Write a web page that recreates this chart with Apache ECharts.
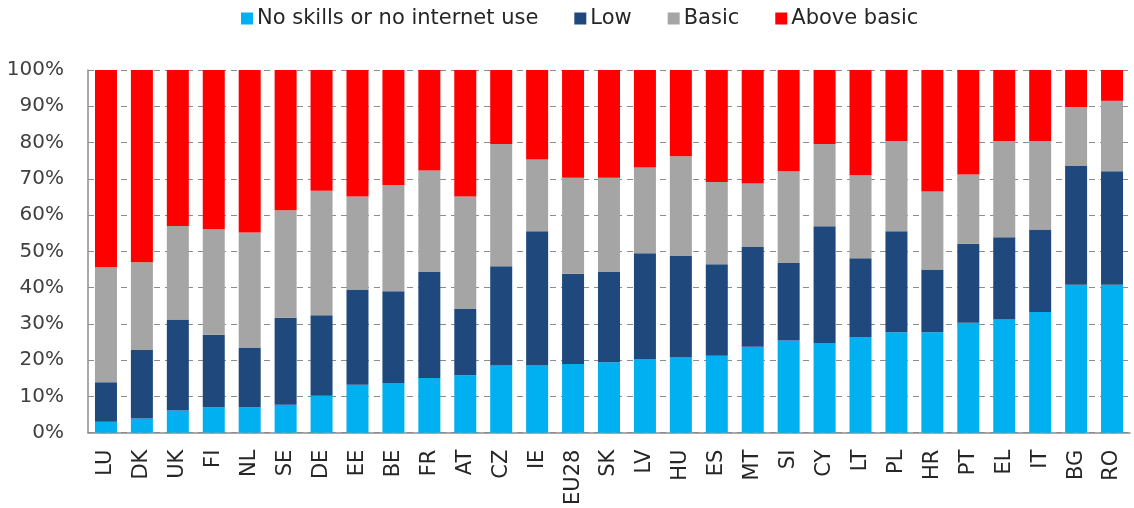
<!DOCTYPE html>
<html>
<head>
<meta charset="utf-8">
<script src="https://cdn.jsdelivr.net/npm/echarts@6/dist/echarts.min.js"></script>
<style>
html,body{margin:0;padding:0;background:#fff;}
#chart{width:1134px;height:508px;}
</style>
</head>
<body>
<div id="chart"></div>
<script>
const categories = ["LU","DK","UK","FI","NL","SE","DE","EE","BE","FR","AT","CZ","IE","EU28","SK","LV","HU","ES","MT","SI","CY","LT","PL","HR","PT","EL","IT","BG","RO"];
const seriesNames = ["No skills or no internet use","Low","Basic","Above basic"];
const noSkills = [3.0,3.9,6.1,6.9,6.9,7.7,10.2,13.2,13.7,15.1,15.8,18.5,18.5,18.9,19.4,20.3,20.7,21.2,23.7,25.4,24.7,26.4,27.7,27.7,30.3,31.2,33.3,40.8,40.8];
const low = [10.9,18.9,25.1,20.1,16.6,24.0,22.2,26.3,25.3,29.2,18.3,27.4,37.0,24.9,24.9,29.2,28.0,25.2,27.5,21.4,32.2,21.7,27.8,17.3,21.8,22.7,22.7,32.7,31.3];
const basic = [31.7,24.2,25.8,29.1,31.7,29.6,34.3,25.6,29.3,28.0,31.0,33.7,19.8,26.5,26.0,23.6,27.5,22.7,17.5,25.3,22.7,22.9,24.9,21.5,19.1,26.5,24.4,16.3,19.4];
const aboveBasic = [54.4,53.0,43.0,43.9,44.8,38.7,33.3,34.9,31.7,27.7,34.9,20.4,24.7,29.7,29.7,26.9,23.8,30.9,31.3,27.9,20.4,29.0,19.6,33.5,28.8,19.6,19.6,10.2,8.5];
const yTicks = [0,10,20,30,40,50,60,70,80,90,100];

const colors = ["#00B0F0","#1F497D","#A5A5A5","#FF0000"];
const dataSets = [noSkills, low, basic, aboveBasic];

const chart = echarts.init(document.getElementById('chart'), null, {renderer:'canvas'});
chart.setOption({
  animation: false,
  textStyle: {fontFamily: 'DejaVu Sans'},
  legend: {
    top: 3,
    left: 236,
    itemWidth: 12,
    itemHeight: 12,
    itemGap: 36,
    icon: 'rect',
    textStyle: {fontSize: 21, color: '#262626', fontFamily: 'DejaVu Sans', padding: [0,0,0,-1]},
    data: seriesNames
  },
  grid: {left: 88, right: 4, top: 70, bottom: 73, containLabel: false},
  xAxis: {
    type: 'category',
    data: categories,
    axisLine: {lineStyle: {color: '#8C8C8C', width: 1.5}},
    axisTick: {show: false},
    axisLabel: {rotate: 90, fontSize: 21, color: '#262626', margin: 17, interval: 0, fontFamily: 'DejaVu Sans'}
  },
  yAxis: {
    type: 'value',
    min: yTicks[0],
    max: yTicks[yTicks.length-1],
    interval: 10,
    axisLine: {show: true, lineStyle: {color: '#8C8C8C', width: 1.5}},
    axisTick: {show: false},
    axisLabel: {formatter: v => v + '%', fontSize: 20, color: '#404040', margin: 24, fontFamily: 'DejaVu Sans'},
    splitLine: {show: true, lineStyle: {color: '#8C8C8C', type: [6,5], width: 1.2}}
  },
  series: seriesNames.map((name, i) => ({
    name: name,
    type: 'bar',
    stack: 'total',
    barWidth: 22,
    itemStyle: {color: colors[i]},
    data: dataSets[i]
  }))
});
</script>
</body>
</html>
